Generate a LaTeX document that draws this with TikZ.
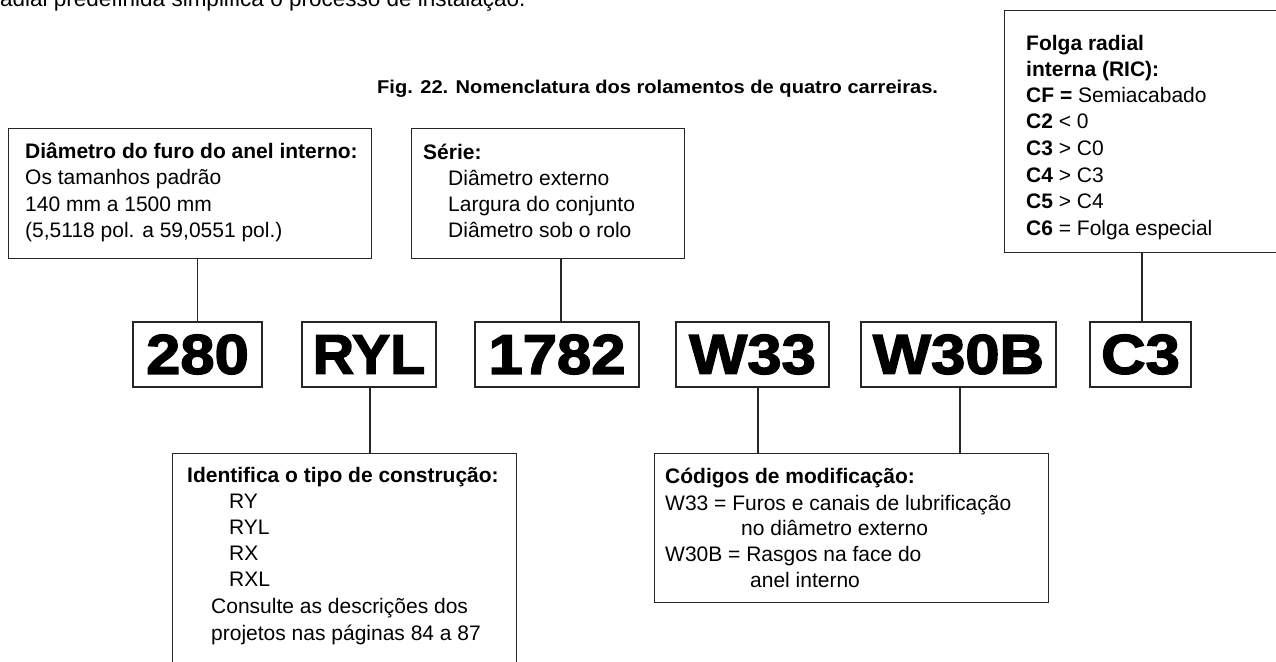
\documentclass[tikz,border=0pt]{standalone}
\usepackage{fontspec}
\usepackage{graphicx}
\setmainfont{Liberation Sans}
\newfontfamily\blackfont[BoldFeatures={FakeBold=2.6,FakeStretch=1.1}]{Liberation Sans}
\begin{document}
\begin{tikzpicture}[x=1pt,y=-1pt,
  box/.style={draw=black!85, line width=1.3pt, rectangle, inner sep=0pt, anchor=north west},
  codebox/.style={draw=black!85, line width=1.3pt, rectangle, inner sep=0pt, minimum height=65pt,
    font=\blackfont\bfseries\fontsize{56}{60}\selectfont},
  link/.style={draw=black!85, line width=1.2pt},
  txt/.style={inner sep=0pt, anchor=base west, font=\fontsize{21}{25}\selectfont},
  btxt/.style={txt, font=\bfseries\fontsize{21}{25}\selectfont}]
\useasboundingbox (0,0) rectangle (1276,661);

% top cut-off text and title
\node[txt, font=\fontsize{22.5}{26}\selectfont] (toptext) at (-7.5,6.5) {radial predefinida simplifica o processo de instala\c{c}\~ao.};
\node[txt, font=\bfseries\fontsize{18.5}{22}\selectfont] (title) at (377,93)
  {\scalebox{1.086}[1]{Fig. 22. Nomenclatura dos rolamentos de quatro carreiras.}};

% description boxes
\node[box, minimum width=363pt, minimum height=130pt] (bdia) at (8,128) {};
\node[box, minimum width=273pt, minimum height=130pt] (bser) at (411,128) {};
\node[box, minimum width=287pt, minimum height=242pt] (bfol) at (1004,10) {};
\node[box, minimum width=344pt, minimum height=237pt] (bide) at (172,453) {};
\node[box, minimum width=394pt, minimum height=149pt] (bcod) at (654,453) {};

% code boxes
\node[codebox, minimum width=129pt] (c280) at (197.5,354.5) {280};
\node[codebox, minimum width=134pt] (cryl) at (369,354.5) {\scalebox{0.93}[1]{RYL}};
\node[codebox, minimum width=164pt] (c1782) at (557,354.5) {1782};
\node[codebox, minimum width=153pt] (cw33) at (752.5,354.5) {W33};
\node[codebox, minimum width=195pt] (cw30b) at (958.5,354.5) {W30B};
\node[codebox, minimum width=101pt] (cc3) at (1140.5,354.5) {C3};

% connectors
\draw[link] (c280.north) -- (c280.north |- bdia.south);
\draw[link] ([xshift=4pt]c1782.north) -- ([xshift=4pt]c1782.north |- bser.south);
\draw[link] ([xshift=1.5pt]cc3.north) -- ([xshift=1.5pt]cc3.north |- bfol.south);
\draw[link] ([xshift=1pt]cryl.south) -- ([xshift=1pt]cryl.south |- bide.north);
\draw[link] ([xshift=5.5pt]cw33.south) -- ([xshift=5.5pt]cw33.south |- bcod.north);
\draw[link] ([xshift=1.5pt]cw30b.south) -- ([xshift=1.5pt]cw30b.south |- bcod.north);

% Diametro box text
\node[btxt] (d1) at (25,158) {Di\^ametro do furo do anel interno:};
\node[txt] (d2) at (25,184.5) {Os tamanhos padr\~ao};
\node[txt] (d3) at (25,211) {140 mm a 1500 mm};
\node[txt] (d4) at (25,237.5) {(5,5118 pol. a 59,0551 pol.)};

% Serie box text
\node[btxt] (s1) at (423,159) {S\'erie:};
\node[txt] (s2) at (448,185) {Di\^ametro externo};
\node[txt] (s3) at (448,211.5) {Largura do conjunto};
\node[txt] (s4) at (448,237.5) {Di\^ametro sob o rolo};

% Folga box text
\node[btxt] (f1) at (1026,50.5) {Folga radial};
\node[btxt] (f2) at (1026,76.5) {interna (RIC):};
\node[txt] (f3) at (1026,102.5) {\textbf{CF =} Semiacabado};
\node[txt] (f4) at (1026,128.5) {\textbf{C2} < 0};
\node[txt] (f5) at (1026,155) {\textbf{C3} > C0};
\node[txt] (f6) at (1026,182) {\textbf{C4} > C3};
\node[txt] (f7) at (1026,208.5) {\textbf{C5} > C4};
\node[txt] (f8) at (1026,235.5) {\textbf{C6} = Folga especial};

% Identifica box text
\node[btxt] (i1) at (187,482) {Identifica o tipo de constru\c{c}\~ao:};
\node[txt] (i2) at (229,508) {RY};
\node[txt] (i3) at (229,534) {RYL};
\node[txt] (i4) at (229,560) {RX};
\node[txt] (i5) at (229,586) {RXL};
\node[txt] (i6) at (211,613) {Consulte as descri\c{c}\~oes dos};
\node[txt] (i7) at (211,640) {projetos nas p\'aginas 84 a 87};

% Codigos box text
\node[btxt] (m1) at (665,483) {C\'odigos de modifica\c{c}\~ao:};
\node[txt] (m2) at (665,510) {W33 = Furos e canais de lubrifica\c{c}\~ao};
\node[txt] (m3) at (741,535.5) {no di\^ametro externo};
\node[txt] (m4) at (665,561) {W30B = Rasgos na face do};
\node[txt] (m5) at (750,587) {anel interno};
\end{tikzpicture}
\end{document}
